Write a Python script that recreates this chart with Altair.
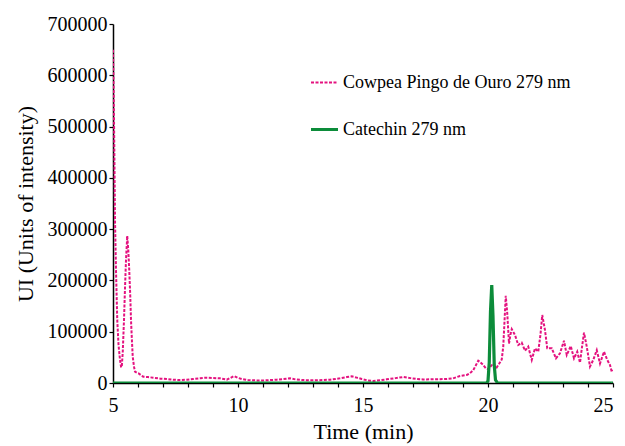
import altair as alt
import pandas as pd

cowpea_time = [5.00, 5.03, 5.06, 5.08, 5.12, 5.17, 5.22, 5.28, 5.32, 5.35, 5.39, 5.44, 5.48, 5.52,
               5.57, 5.61, 5.65, 5.69, 5.72, 5.76, 5.79, 5.84, 5.88, 5.95, 6.01, 6.21, 6.40, 6.61,
               6.90, 7.15, 7.40, 7.68, 7.95, 8.21, 8.50, 8.75, 9.00, 9.28, 9.55, 9.70, 9.84, 10.00,
               10.15, 10.40, 10.61, 10.90, 11.15, 11.55, 11.80, 12.08, 12.30, 12.55, 13.01, 13.40,
               13.68, 14.08, 14.35, 14.55, 14.75, 14.95, 15.20, 15.41, 15.70, 15.95, 16.30, 16.61,
               16.90, 17.15, 17.40, 17.68, 18.00, 18.35, 18.60, 18.88, 19.15, 19.28, 19.41, 19.52,
               19.61, 19.70, 19.81, 19.91, 20.01, 20.10, 20.20, 20.35, 20.45, 20.55, 20.61, 20.66,
               20.71, 20.77, 20.84, 20.90, 20.95, 21.08, 21.21, 21.35, 21.48, 21.61, 21.75, 21.88,
               22.01, 22.10, 22.17, 22.28, 22.37, 22.55, 22.72, 22.88, 23.04, 23.15, 23.31, 23.44,
               23.57, 23.68, 23.76, 23.84, 23.95, 24.08, 24.21, 24.35, 24.48, 24.64, 24.77, 24.88,
               24.95, 25.00]
cowpea_ui = [650000, 560000, 420000, 318000, 220000, 123000, 75000, 45000, 32000, 30600, 60000,
             123000, 185000, 240000, 287000, 260000, 220000, 170000, 123000, 80000, 51000, 32000,
             22000, 20000, 19000, 12300, 11500, 10400, 8500, 7800, 6500, 5800, 6500, 7800, 9500,
             10400, 9800, 9100, 6500, 10000, 13600, 10000, 7800, 6000, 5200, 5000, 5200, 6500,
             7500, 9100, 7000, 5800, 5200, 5800, 6500, 9100, 11500, 13000, 10500, 7800, 5000,
             3900, 5500, 7100, 9500, 11700, 9500, 7800, 7000, 7100, 7500, 7800, 9000, 13600,
             15600, 19000, 25000, 35000, 43500, 40000, 35000, 29000, 26700, 32000, 38000, 30500,
             38000, 46000, 71000, 120000, 170000, 136000, 77000, 95000, 105000, 93500, 74000,
             78600, 63000, 71000, 45000, 67600, 61000, 95000, 132500, 103000, 67600, 67600, 48000,
             58000, 82500, 54600, 72000, 48000, 61000, 39600, 70000, 98000, 71000, 32000, 45000,
             64000, 38000, 61000, 45000, 35000, 22000, 25000]

catechin_time = [5.0, 19.95, 20.0, 20.05, 20.1, 20.15, 20.2, 20.25, 20.3, 20.38, 25.0]
catechin_ui = [0, 0, 4000, 40000, 140000, 191000, 130000, 35000, 6000, 0, 0]

series_names = ["Cowpea Pingo de Ouro 279 nm", "Catechin 279 nm"]
series_colors = ["#e4127f", "#0c8c3a"]
x_ticks = list(range(5, 26))
y_ticks = list(range(0, 700001, 100000))

df = pd.concat([
    pd.DataFrame({"time": cowpea_time, "ui": cowpea_ui, "series": series_names[0], "order": 0}),
    pd.DataFrame({"time": catechin_time, "ui": catechin_ui, "series": series_names[1], "order": 1}),
])

FONT = "Liberation Serif, Times New Roman, Times, serif"

leg = alt.Legend(title=None, orient="none", legendX=196, legendY=44,
                 symbolType="stroke", symbolSize=729, labelOffset=3,
                 rowPadding=22, padding=0)

chart = alt.Chart(df).mark_line(clip=True).encode(
    x=alt.X("time:Q", scale=alt.Scale(domain=[5, 25], nice=False),
            axis=alt.Axis(title="Time (min)", values=x_ticks,
                          labelExpr="datum.value % 5 == 0 ? datum.label : ''",
                          labelFlush=False, labelOverlap=False,
                          labelAlign={"expr": "datum.value == 25 ? 'right' : 'center'"},
                          grid=False, tickSize=4, labelPadding=8, titlePadding=6)),
    y=alt.Y("ui:Q", scale=alt.Scale(domain=[0, 700000], nice=False),
            axis=alt.Axis(title="UI (Units of intensity)", values=y_ticks, format="d",
                          labelFlush=False, labelOverlap=False,
                          grid=False, tickSize=4, labelPadding=2, titlePadding=10)),
    color=alt.Color("series:N", scale=alt.Scale(domain=series_names, range=series_colors),
                    legend=leg),
    strokeDash=alt.StrokeDash("series:N",
                              scale=alt.Scale(domain=series_names, range=[[3, 1.5], [1, 0]]),
                              legend=leg),
    strokeWidth=alt.StrokeWidth("series:N",
                                scale=alt.Scale(domain=series_names, range=[2, 3.2]),
                                legend=None),
    order=alt.Order("order:Q"),
    detail="series:N",
).properties(
    width=500, height=359,
    autosize=alt.AutoSizeParams(type="none"),
    padding={"left": 105, "top": 16, "right": 4, "bottom": 63},
).configure_view(stroke=None).configure_axis(
    labelFont=FONT, titleFont=FONT, labelFontSize=20, titleFontSize=22,
    labelColor="black", titleColor="black", titleFontWeight="normal",
    domainColor="black", tickColor="black", domainWidth=1.5, tickWidth=1.2,
).configure_legend(
    labelFont=FONT, labelFontSize=18, labelColor="black", labelLimit=400,
    symbolStrokeWidth=2.5,
)

chart.save("out.html", embed_options={"renderer": "svg", "actions": False})
